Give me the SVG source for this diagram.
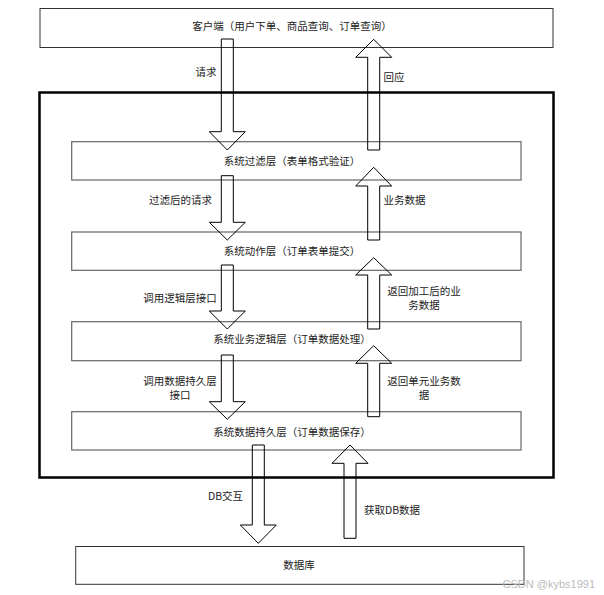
<svg xmlns="http://www.w3.org/2000/svg" width="604" height="595" viewBox="0 0 604 595">
<style>
.box{fill:none;stroke:#333;stroke-width:1}
.layer{fill:none;stroke:#666;stroke-width:1.2}
.outer{fill:none;stroke:#000;stroke-width:2.5}
.arrow{fill:none;stroke:#000;stroke-width:1}
text{font-family:"Noto Sans CJK SC","Noto Sans",sans-serif;font-size:10.5px;fill:#222}
.c{text-anchor:middle}
.wm{font-family:"Liberation Sans",sans-serif;font-size:11px;fill:#bbb;text-anchor:end}
</style>
<rect width="604" height="595" fill="#fff"/>
<g id="outer-box"><rect class="outer" x="39.5" y="92.5" width="514" height="385"/></g>
<g id="client"><rect class="box" x="40" y="8.5" width="513" height="39"/><text class="c" x="292" y="30">客户端（用户下单、商品查询、订单查询）</text></g>
<g id="layer-filter"><rect class="layer" x="71.7" y="141.7" width="449.3" height="38.3"/><text class="c" x="292" y="164.5">系统过滤层（表单格式验证）</text></g>
<g id="layer-action"><rect class="layer" x="71.7" y="232" width="449.3" height="38.3"/><text class="c" x="292" y="254.5">系统动作层（订单表单提交）</text></g>
<g id="layer-logic"><rect class="layer" x="71.7" y="321.7" width="449.3" height="39"/><text class="c" x="292" y="343.2">系统业务逻辑层（订单数据处理）</text></g>
<g id="layer-persist"><rect class="layer" x="71.7" y="411.7" width="449.3" height="38.3"/><text class="c" x="292" y="435.5">系统数据持久层（订单数据保存）</text></g>
<g id="database"><rect class="box" x="75.7" y="546.5" width="448.3" height="37.8" stroke="#000"/><text class="c" x="299" y="569">数据库</text></g>
<g id="connectors">
<path class="arrow" d="M221.3,39 V131.7 H209.3 L227.3,150 L245.3,131.7 H233.3 V39 Z"/>
<path class="arrow" d="M221.3,175.7 V222.3 H209.3 L227.3,240 L245.3,222.3 H233.3 V175.7 Z"/>
<path class="arrow" d="M221.3,265 V311 H209.3 L227.3,329 L245.3,311 H233.3 V265 Z"/>
<path class="arrow" d="M221.3,355 V401.7 H209.3 L227.3,419.3 L245.3,401.7 H233.3 V355 Z"/>
<path class="arrow" d="M367.7,150 V57.3 H355.7 L373.7,39.3 L391.7,57.3 H379.7 V150 Z"/>
<path class="arrow" d="M367.7,240 V186 H355.7 L373.7,167.3 L391.7,186 H379.7 V240 Z"/>
<path class="arrow" d="M367.7,329 V275 H355.7 L373.7,257.7 L391.7,275 H379.7 V329 Z"/>
<path class="arrow" d="M367.7,416.7 V363.3 H355.7 L373.7,345.7 L391.7,363.3 H379.7 V416.7 Z"/>
<path class="arrow" d="M252.3,445 V525 H240.3 L258.3,543.3 L276.3,525 H264.3 V445 Z"/>
<path class="arrow" d="M344,538.3 V463.3 H332 L350,445 L368,463.3 H356 V538.3 Z"/>
<text class="c" x="206" y="75.5">请求</text>
<text class="c" x="394" y="80.5">回应</text>
<text class="c" x="180.5" y="204">过滤后的请求</text>
<text class="c" x="404.5" y="204">业务数据</text>
<text class="c" x="180" y="301.5">调用逻辑层接口</text>
<text class="c" x="424" y="295">返回加工后的业</text>
<text class="c" x="424" y="308.5">务数据</text>
<text class="c" x="180" y="385">调用数据持久层</text>
<text class="c" x="180" y="398.5">接口</text>
<text class="c" x="424" y="385">返回单元业务数</text>
<text class="c" x="424" y="398.5">据</text>
<text class="c" x="225.5" y="500">DB交互</text>
<text class="c" x="392" y="514">获取DB数据</text>
</g>
<text class="wm" x="595" y="588">CSDN @kybs1991</text>
</svg>
